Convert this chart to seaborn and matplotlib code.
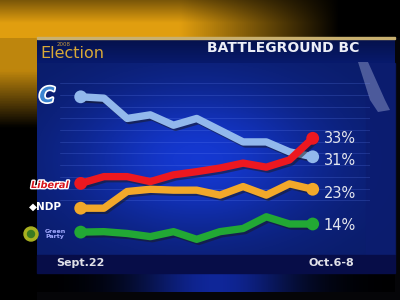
import numpy as np
import pandas as pd
import matplotlib
matplotlib.use("Agg")
import matplotlib.pyplot as plt
import matplotlib.patheffects as pe
from matplotlib.patches import Circle, Rectangle, Polygon
import seaborn as sns

# ---------------- data ----------------
polls = list(range(11))
x_labels = ["Sept.22", "Oct.6-8"]
parties = ["Conservative", "Liberal", "NDP", "Green"]
cpc = [42.2, 41.9, 37.4, 38.2, 35.9, 37.4, 34.8, 32.2, 32.2, 30.0, 28.9]
lib = [23.0, 24.5, 24.5, 23.4, 24.9, 25.6, 26.4, 27.5, 26.6, 28.2, 33.0]
ndp = [17.5, 17.5, 21.2, 21.7, 21.5, 21.5, 20.4, 22.3, 20.4, 22.9, 21.7]
grn = [12.2, 12.3, 11.9, 11.2, 12.3, 10.6, 12.3, 13.0, 15.6, 14.0, 14.0]
end_labels = ["31%", "33%", "23%", "14%"]
title = "BATTLEGROUND BC"

colors = {"Conservative": "#92b8ec", "Liberal": "#ec1820",
          "NDP": "#f2a82a", "Green": "#22a834"}

df = pd.DataFrame({
    "poll": polls * 4,
    "share": cpc + lib + ndp + grn,
    "party": sum([[p] * len(polls) for p in parties], []),
})

sns.set_theme(style="dark")
plt.rcParams["font.family"] = ["DejaVu Sans"]

W, H = 400, 300
fig = plt.figure(figsize=(4, 3), dpi=100)
fig.patch.set_facecolor("#050508")

# ---------------- background (pixel coords) ----------------
bg = fig.add_axes([0, 0, 1, 1])
bg.set_xlim(0, W)
bg.set_ylim(H, 0)
bg.axis("off")

# top gold band
xx = np.linspace(0, 1, 200)[None, :]
yy = np.linspace(0, 1, 40)[:, None]
hf = np.clip(1.0 - (xx - 0.45) / 0.4, 0, 1)
vf = 0.55 + 0.45 * np.clip(yy / 0.6, 0, 1)
gold = np.array([0.88, 0.62, 0.06])
top = hf[..., None] * vf[..., None] * gold
bg.imshow(top, extent=[0, W, 38, 0], aspect="auto", zorder=0)

# left gold strip
yy2 = np.linspace(0, 1, 100)[:, None]
lf = np.clip(1 - (yy2 - 0.12) / 0.22, 0, 1) * np.ones((1, 10))
left = lf[..., None] * gold * 0.85
bg.imshow(left, extent=[0, 37, 300, 38], aspect="auto", zorder=0)

# main blue panel
px = np.linspace(0, 1, 200)[None, :]
py = np.linspace(0, 1, 150)[:, None]
bright = 0.5 + 0.5 * np.exp(-((px - 0.45) ** 2) / 0.12) * np.exp(-((py - 0.5) ** 2) / 0.15)
panel = np.empty((150, 200, 3))
panel[..., 0] = 0.08 * bright
panel[..., 1] = 0.22 * bright
panel[..., 2] = 0.82 * bright
bg.imshow(panel, extent=[37, 395, 255, 63], aspect="auto", zorder=1)

# title bar
tb = np.empty((10, 200, 3))
tbf = np.linspace(0.7, 1.0, 10)[:, None] * np.ones((1, 200))
tb[..., 0] = 0.03 * tbf
tb[..., 1] = 0.10 * tbf
tb[..., 2] = 0.42 * tbf
bg.imshow(tb, extent=[37, 395, 63, 38], aspect="auto", zorder=1)
bg.add_patch(Rectangle((37, 37), 358, 2, color="#c8b070", zorder=2))

# right dark column and glare
bg.add_patch(Rectangle((366, 63), 29, 192, color="#0c1c70", alpha=0.75, zorder=2))
bg.add_patch(Polygon([[358, 62], [368, 62], [385, 100], [390, 110], [378, 112], [370, 100]],
                     closed=True, color="#c8d0f0", alpha=0.35, zorder=3, lw=0))

# bottom strip + glow
bg.add_patch(Rectangle((37, 255), 358, 18, color="#070d48", zorder=2))
gl = np.exp(-((np.linspace(0, 1, 200) - 0.5) ** 2) / 0.05)[None, :] * np.ones((10, 1))
glow = np.empty((10, 200, 3))
glow[..., 0] = 0.06 * gl
glow[..., 1] = 0.15 * gl
glow[..., 2] = 0.60 * gl
bg.imshow(glow, extent=[37, 395, 292, 273], aspect="auto", zorder=1)

# title texts
bg.text(283, 48, title, color="#eceef6", fontsize=10, fontweight="bold",
        ha="center", va="center", zorder=5)
bg.text(40, 54, "Election", color="#d8a838", fontsize=11.5,
        ha="left", va="center", zorder=5)
bg.text(57, 44, "2008", color="#c89a40", fontsize=4, ha="left", va="center", zorder=5)

# party logos (legend)
glowfx = [pe.withStroke(linewidth=2, foreground="white")]
bg.text(47, 96, "C", color="#3a84d0", fontsize=15, fontweight="bold", style="italic",
        ha="center", va="center", zorder=5,
        path_effects=[pe.withStroke(linewidth=2.5, foreground="white")])
bg.text(50, 185, "Liberal", color="#d8141c", fontsize=7, fontweight="bold", style="italic",
        ha="center", va="center", zorder=5, path_effects=glowfx)
bg.text(45, 207, "\u25C6NDP", color="white", fontsize=7.5, fontweight="bold",
        ha="center", va="center", zorder=5)
bg.add_patch(Circle((31, 234), 7, color="#a8b020", zorder=5))
bg.add_patch(Circle((31, 234), 3.5, color="#3a7a20", zorder=6))
bg.text(55, 234, "Green\nParty", color="#a0a8ff", fontsize=4.5, fontweight="bold",
        ha="center", va="center", linespacing=0.9, zorder=5)

# ---------------- data axes ----------------
# pixel mapping: x = 80.7 + 23.2*i ; y = 138.3 + (33 - v)*4.51
L, R, B, T = 60, 370, 250, 70
ax = fig.add_axes([L / W, 1 - B / H, (R - L) / W, (B - T) / H])
ax.set_facecolor("none")
ax.patch.set_alpha(0)
ax.set_xlim((L - 80.7) / 23.2, (R - 80.7) / 23.2)
ax.set_ylim(33 - (B - 138.3) / 4.51, 33 + (138.3 - T) / 4.51)
ax.set_yticks(np.arange(45.2, 18.0, -2.594))
ax.set_xticks([])
ax.tick_params(length=0, labelleft=False)
ax.grid(axis="y", color="#7090ff", alpha=0.2, linewidth=0.7)
for s in ax.spines.values():
    s.set_visible(False)

sns.lineplot(data=df, x="poll", y="share", hue="party", palette=colors,
             hue_order=parties, linewidth=5.3, legend=False, ax=ax,
             solid_capstyle="round", solid_joinstyle="round")
for ln in ax.lines:
    ln.set_path_effects([pe.SimpleLineShadow(offset=(1.5, -1.5), alpha=0.5),
                         pe.Normal()])

ends = df[df["poll"].isin([polls[0], polls[-1]])]
sns.scatterplot(data=ends, x="poll", y="share", hue="party", palette=colors,
                hue_order=parties, s=85, edgecolor="none", legend=False, ax=ax, zorder=5)
ax.set_xlabel("")
ax.set_ylabel("")

series = [cpc, lib, ndp, grn]
nudges = [-3, 0, -3, -1]
for vals, lab, dy in zip(series, end_labels, nudges):
    ax.annotate(lab, (polls[-1], vals[-1]), xytext=(8, dy), textcoords="offset points",
                color="#e4e6ee", fontsize=10.5, ha="left", va="center")

# x labels
ax.text(polls[0], -0.075, x_labels[0], transform=ax.get_xaxis_transform(),
        color="#e0e0e8", fontsize=8, fontweight="bold", ha="center", va="center")
ax.text(polls[-1] - 0.2, -0.075, x_labels[1], transform=ax.get_xaxis_transform(),
        color="#e0e0e8", fontsize=8, fontweight="bold", ha="left", va="center")

fig.savefig("out.png", dpi=100, facecolor=fig.get_facecolor())
